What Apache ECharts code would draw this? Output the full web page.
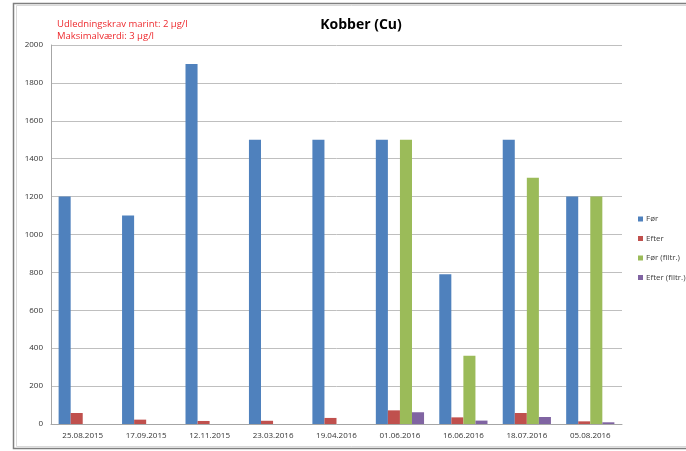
<!DOCTYPE html>
<html>
<head>
<meta charset="utf-8">
<script src="https://cdn.jsdelivr.net/npm/echarts@6/dist/echarts.min.js"></script>
<style>
  html, body { margin: 0; padding: 0; background: #fff; }
  #chart { width: 686px; height: 451px; }
</style>
</head>
<body>
<div id="chart"></div>
<script>
// Sampling dates
const categories = ['25.08.2015', '17.09.2015', '12.11.2015', '23.03.2016', '19.04.2016',
                    '01.06.2016', '16.06.2016', '18.07.2016', '05.08.2016'];

// Copper concentrations (µg/l) before and after treatment
const foer        = [1200, 1100, 1900, 1500, 1500, 1500, 790, 1500, 1200];
const efter       = [58, 23, 16, 17, 32, 72, 35, 58, 14];
const foerFiltr   = [null, null, null, null, null, 1500, 360, 1300, 1200];
const efterFiltr  = [null, null, null, null, null, 62, 18, 37, 9];

const yTicks = { min: 0, max: 2000, interval: 200 };

const seriesNames = ['Før', 'Efter', 'Før (filtr.)', 'Efter (filtr.)'];
const seriesData = [foer, efter, foerFiltr, efterFiltr];
const colors = ['#4F81BD', '#C0504D', '#9BBB59', '#8064A2'];

const font = '"Open Sans", "Liberation Sans", sans-serif';

const chart = echarts.init(document.getElementById('chart'), null, { renderer: 'canvas' });

chart.setOption({
  animation: false,
  backgroundColor: '#fff',
  color: colors,
  title: {
    text: 'Kobber (Cu)',
    left: 356,
    top: 13,
    textAlign: 'center',
    textStyle: { fontFamily: font, fontSize: 14, fontWeight: 'bold', color: '#000' }
  },
  graphic: [
    { type: 'rect', shape: { x: 13.5, y: 3.5, width: 690, height: 445 },
      style: { fill: null, stroke: '#7f7f7f', lineWidth: 1.5 }, silent: true },
    { type: 'rect', shape: { x: 16.5, y: 5.5, width: 690, height: 441 },
      style: { fill: null, stroke: '#d9d9d9', lineWidth: 1 }, silent: true },
    { type: 'text', left: 57, top: 18,
      style: { text: 'Udledningskrav marint: 2 µg/l\nMaksimalværdi: 3 µg/l',
               fill: '#ee2a2e', fontFamily: font, fontSize: 9.5, lineHeight: 12 } }
  ],
  legend: {
    orient: 'vertical',
    left: 633,
    top: 210,
    itemWidth: 5,
    itemHeight: 5,
    itemGap: 11.5,
    icon: 'rect',
    data: seriesNames,
    textStyle: { fontFamily: font, fontSize: 8, color: '#404040', padding: [0, 0, 0, -2] }
  },
  grid: { left: 51, right: 64, top: 45, bottom: 27, containLabel: false },
  xAxis: {
    type: 'category',
    data: categories,
    axisLine: { lineStyle: { color: '#a6a6a6' } },
    axisTick: { show: false },
    axisLabel: { fontFamily: font, fontSize: 8, color: '#333', margin: 8 },
    splitLine: { show: false }
  },
  yAxis: {
    type: 'value',
    min: yTicks.min,
    max: yTicks.max,
    interval: yTicks.interval,
    axisLine: { show: true, lineStyle: { color: '#a6a6a6' } },
    axisTick: { show: false },
    axisLabel: { fontFamily: font, fontSize: 8, color: '#333', margin: 8,
                 formatter: v => String(v) },
    splitLine: { lineStyle: { color: '#bfbfbf' } }
  },
  series: seriesNames.map((name, i) => ({
    name: name,
    type: 'bar',
    data: seriesData[i],
    barGap: '0%',
    barCategoryGap: '24%',
    itemStyle: { color: colors[i] }
  }))
});
</script>
</body>
</html>
